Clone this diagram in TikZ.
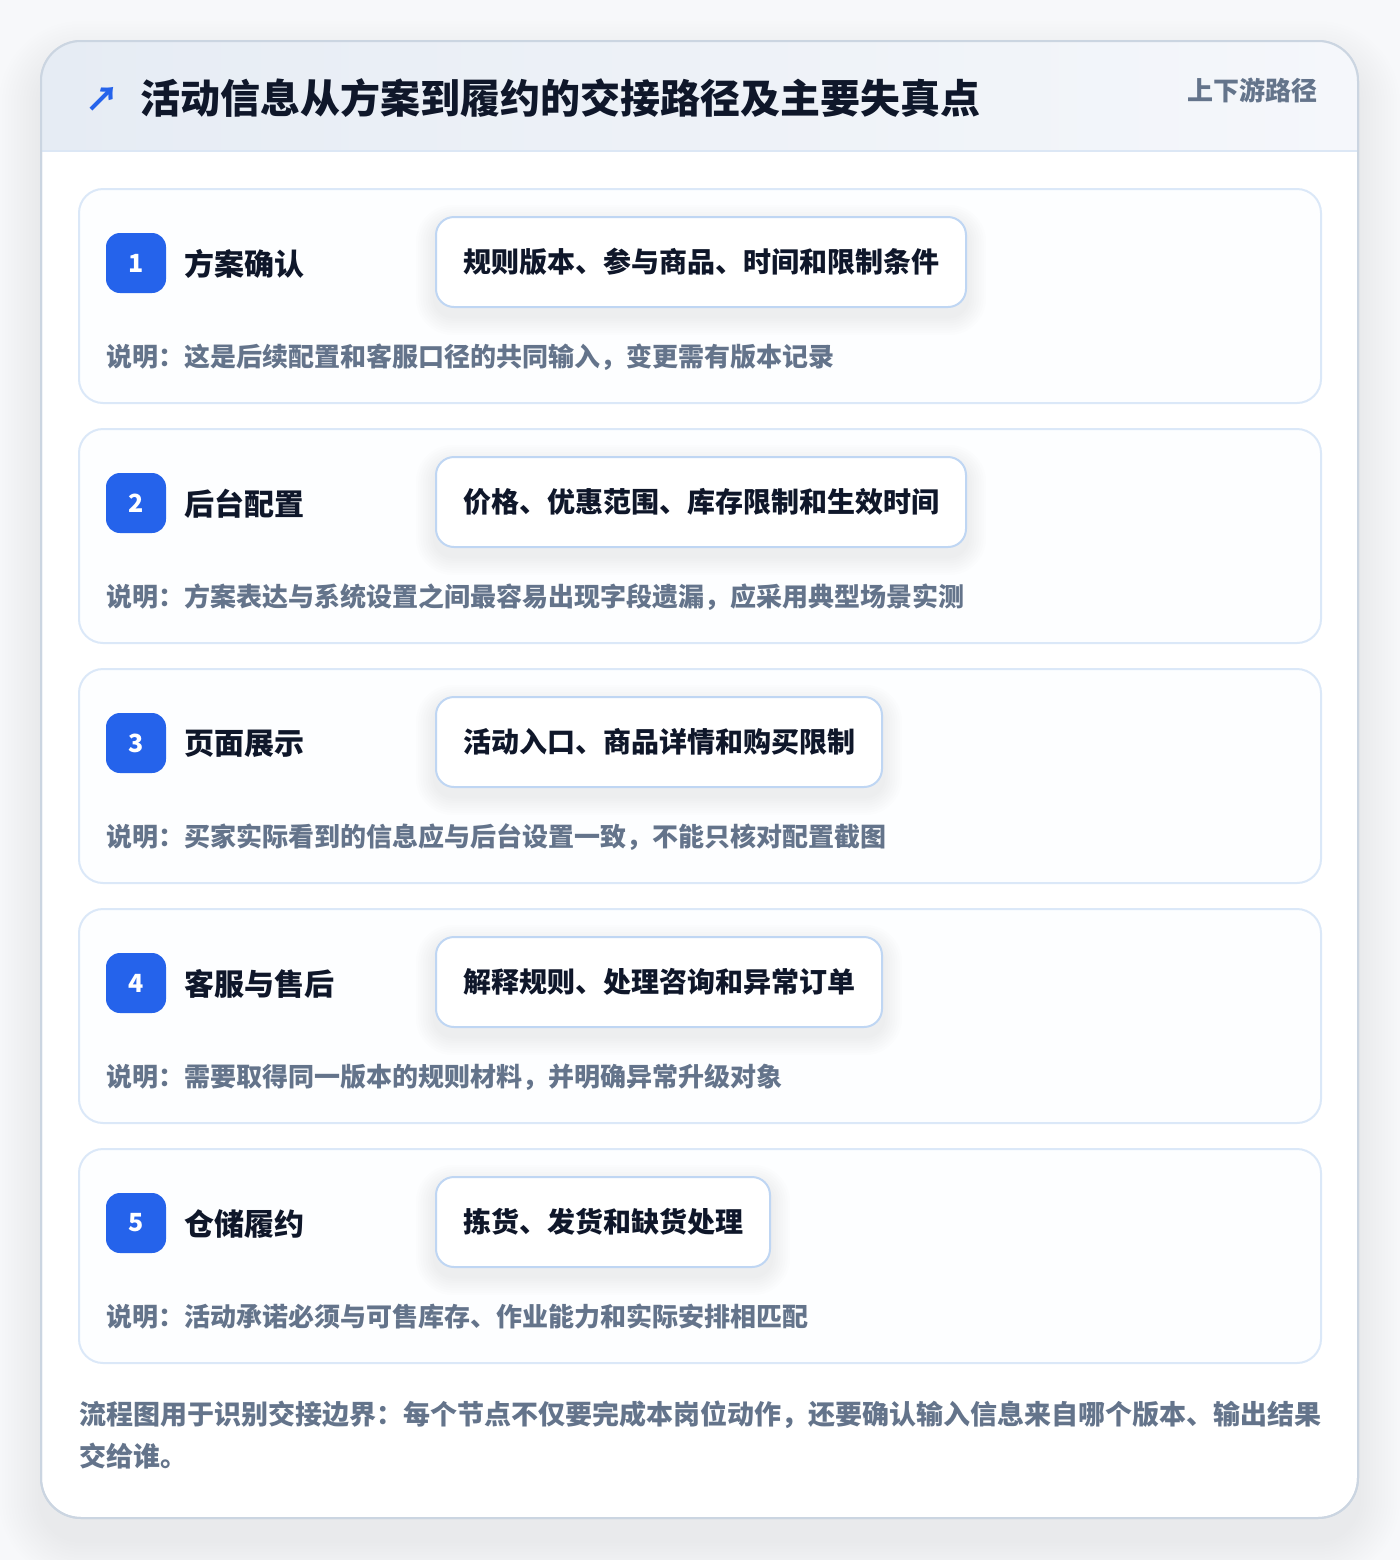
\documentclass[tikz,border=0pt]{standalone}
\usepackage{fontspec}
\setmainfont{Noto Sans CJK SC}
\definecolor{pagebg}{HTML}{F7F8FA}
\definecolor{outerline}{HTML}{CBD5E1}
\definecolor{hdrL}{HTML}{E6ECF4}
\definecolor{hdrR}{HTML}{F5F7FB}
\definecolor{hdrline}{HTML}{DCE7F5}
\definecolor{cardline}{HTML}{DBE8F8}
\definecolor{cardfill}{HTML}{FDFEFF}
\definecolor{pillline}{HTML}{BFD6F3}
\definecolor{badgeblue}{HTML}{2563EB}
\definecolor{ink}{HTML}{0F172A}
\definecolor{muted}{HTML}{64748B}
\pgfdeclarelayer{bglayer}
\pgfdeclarelayer{shadowlayer}
\pgfsetlayers{bglayer,shadowlayer,main}
\tikzset{
  outercard/.style={draw=outerline, line width=1pt, fill=white, rounded corners=20pt},
  stepcard/.style={draw=cardline, line width=1pt, fill=cardfill, rounded corners=12pt},
  badge/.style={fill=badgeblue, rounded corners=7pt, minimum width=30pt, minimum height=30pt,
    inner sep=0pt, text=white, font=\fontsize{12.5}{12}\selectfont\bfseries},
  stepname/.style={anchor=west, inner sep=0pt, text=ink, font=\fontsize{15}{16}\selectfont\bfseries},
  pill/.style={anchor=west, draw=pillline, line width=1pt, fill=white, rounded corners=9pt,
    inner xsep=13.5pt, inner ysep=0pt, minimum height=45pt, text=ink,
    font=\fontsize{14}{15}\selectfont\bfseries},
  desc/.style={anchor=west, inner sep=0pt, text=muted, font=\fontsize{13}{14}\selectfont\bfseries},
  shadowstep/.style={fill=black, opacity=0.009},
}
\begin{document}
\begin{tikzpicture}[x=0.5pt,y=-0.5pt]
\useasboundingbox (0,0) rectangle (1400,1560);
\begin{pgfonlayer}{bglayer}
\fill[pagebg] (0,0) rectangle (1400,1560);
% outer card shadow
\foreach \k in {1,...,14}{
  \fill[shadowstep, opacity=0.0055, rounded corners=20pt+1.5*\k pt] (41-3*\k,41-3*\k+22) rectangle (1358+3*\k,1518+3*\k+22);
}
% outer card
\path[outercard] (41,41) rectangle (1358,1518);
\begin{scope}
  \clip[rounded corners=20pt] (41,41) rectangle (1358,1518);
  \shade[left color=hdrL, right color=hdrR] (41,41) rectangle (1358,151);
\end{scope}
\draw[hdrline, line width=1pt] (41,151) -- (1358,151);
\draw[outerline, line width=1pt, rounded corners=20pt] (41,41) rectangle (1358,1518);
\foreach \i in {1,...,5}{
  \pgfmathsetmacro{\top}{189+240*(\i-1)}
  \path[stepcard] (79,\top) rectangle (1321,\top+214);
}
\end{pgfonlayer}
% header
\node[anchor=center, inner sep=0pt, text=badgeblue, font=\fontsize{17}{18}\selectfont\bfseries] (icon) at (102,99) {↗};
\node[anchor=west, inner sep=0pt, text=ink, font=\fontsize{20}{21}\selectfont\bfseries] (title) at (140,98) {活动信息从方案到履约的交接路径及主要失真点};
\node[anchor=east, inner sep=0pt, text=muted, font=\fontsize{13}{14}\selectfont\bfseries] (tag) at (1318,90) {上下游路径};
% steps
\foreach \i/\name/\pilltext/\desctext in {
  1/方案确认/规则版本、参与商品、时间和限制条件/说明：这是后续配置和客服口径的共同输入，变更需有版本记录,
  2/后台配置/价格、优惠范围、库存限制和生效时间/说明：方案表达与系统设置之间最容易出现字段遗漏，应采用典型场景实测,
  3/页面展示/活动入口、商品详情和购买限制/说明：买家实际看到的信息应与后台设置一致，不能只核对配置截图,
  4/客服与售后/解释规则、处理咨询和异常订单/说明：需要取得同一版本的规则材料，并明确异常升级对象,
  5/仓储履约/拣货、发货和缺货处理/说明：活动承诺必须与可售库存、作业能力和实际安排相匹配}{
  \pgfmathsetmacro{\top}{189+240*(\i-1)}
  \node[badge] (b\i) at (136,\top+74) {\i};
  \node[stepname] (n\i) at (184,\top+75) {\name};
  \node[pill] (p\i) at (435,\top+73) {\pilltext};
  \node[desc] (d\i) at (106,\top+168) {\desctext};
  \begin{pgfonlayer}{shadowlayer}
    \foreach \k in {1,...,8}{
      \fill[shadowstep, rounded corners=9pt+1.2*\k pt]
        ([shift={(-2.4*\k,2.4*\k+8)}]p\i.south west) rectangle ([shift={(2.4*\k,-2.4*\k+8)}]p\i.north east);
    }
  \end{pgfonlayer}
}
% footer
\node[anchor=north west, inner sep=0pt, align=left, text=muted,
  font=\fontsize{13.5}{21}\selectfont\bfseries] (foot) at (79,1400)
  {流程图用于识别交接边界：每个节点不仅要完成本岗位动作，还要确认输入信息来自哪个版本、输出结果\\交给谁。};
\end{tikzpicture}
\end{document}
